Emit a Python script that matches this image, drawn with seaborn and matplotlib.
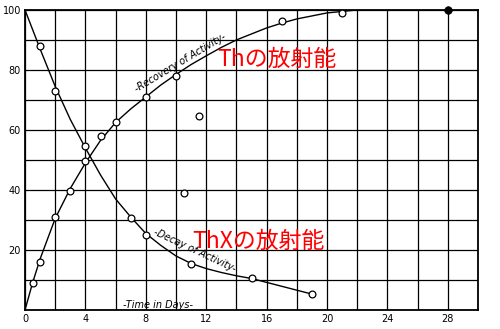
import numpy as np
import pandas as pd
import matplotlib
matplotlib.use("Agg")
import matplotlib.pyplot as plt
import seaborn as sns

# ---- data ----
# measured points (days, relative activity %)
recovery_days = [0.5, 1, 2, 3, 4, 5, 6, 8, 10, 11.5, 17, 21]
recovery_vals = [9, 16, 31, 39.5, 49.5, 58, 62.5, 71, 78, 64.5, 96.3, 99]
decay_days = [1, 2, 4, 7, 8, 10.5, 11, 15, 19]
decay_vals = [88, 73, 54.5, 30.5, 25, 39, 15.3, 10.7, 5.3]
final_days = [28]
final_vals = [100]

# hand-drawn smooth curves
rec_curve_days = [0, 0.5, 1, 2, 3, 4, 5, 6, 7, 8, 9, 10, 11, 12, 13, 14, 15, 16, 17, 18, 20, 22, 28]
rec_curve_vals = [0, 9, 17, 30.5, 40.5, 49, 56.5, 62.5, 67, 71, 75, 78.5, 81.8, 84.7, 87.5, 90, 92, 94, 95.6, 97, 99, 100, 100]
dec_curve_days = [0, 1, 2, 3, 4, 5, 6, 7, 8, 9, 10, 11, 12, 13, 14, 15, 17, 19]
dec_curve_vals = [100, 87, 74.5, 63.5, 54, 45, 37, 31, 25.5, 21.5, 18, 15.5, 13.8, 12.5, 11.4, 10.5, 7.9, 5.3]

x_ticks = [0, 4, 8, 12, 16, 20, 24, 28]
y_ticks = [20, 40, 60, 80, 100]

# ---- plotting ----
sns.set_style("white")
plt.rcParams['font.family'] = ['DejaVu Sans']

fig = plt.figure(figsize=(5, 3.29), dpi=100)
ax = fig.add_axes([0.05, 0.0578, 0.906, 0.912])

rec_curve = pd.DataFrame({"t": rec_curve_days, "a": rec_curve_vals})
dec_curve = pd.DataFrame({"t": dec_curve_days, "a": dec_curve_vals})
sns.lineplot(data=rec_curve, x="t", y="a", ax=ax, color="black", lw=1.0, sort=False)
sns.lineplot(data=dec_curve, x="t", y="a", ax=ax, color="black", lw=1.0, sort=False)

pts = pd.DataFrame({"t": recovery_days + decay_days, "a": recovery_vals + decay_vals})
sns.scatterplot(data=pts, x="t", y="a", ax=ax, s=24, marker="o",
                facecolor="white", edgecolor="black", linewidth=0.9, zorder=5)
fin = pd.DataFrame({"t": final_days, "a": final_vals})
sns.scatterplot(data=fin, x="t", y="a", ax=ax, s=30, marker="o", facecolor="black",
                edgecolor="black", linewidth=0.5, zorder=6, clip_on=False)

ax.set_xlim(0, 30)
ax.set_ylim(0, 100)
ax.set_xticks(x_ticks)
ax.set_yticks(y_ticks)
ax.set_xticks(np.arange(0, 31, 2), minor=True)
ax.set_yticks(np.arange(0, 101, 10), minor=True)
ax.grid(which="both", color="black", lw=0.9)
ax.set_axisbelow(True)
ax.tick_params(which="both", length=0, labelsize=7, colors="black", pad=3)
ax.set_xlabel("")
ax.set_ylabel("")
for s in ax.spines.values():
    s.set_color("black")
    s.set_linewidth(1.3)

ax.text(10.3, 82.3, "-Recovery of Activity-", rotation=31, ha="center", va="center",
        fontsize=7, style="italic", color="black")
ax.text(11.26, 19.8, "-Decay of Activity-", rotation=-25, ha="center", va="center",
        fontsize=7, style="italic", color="black")
ax.text(8.8, 1.8, "-Time in Days-", ha="center", va="center",
        fontsize=7, style="italic", color="black")

ax.text(12.7, 83.4, "Thの放射能", ha="left", va="center", color="red",
        fontsize=16.5, family=["Noto Sans CJK JP", "DejaVu Sans"])
ax.text(11.06, 22.9, "ThXの放射能", ha="left", va="center", color="red",
        fontsize=16.5, family=["Noto Sans CJK JP", "DejaVu Sans"])

fig.savefig("out.png", dpi=100)
